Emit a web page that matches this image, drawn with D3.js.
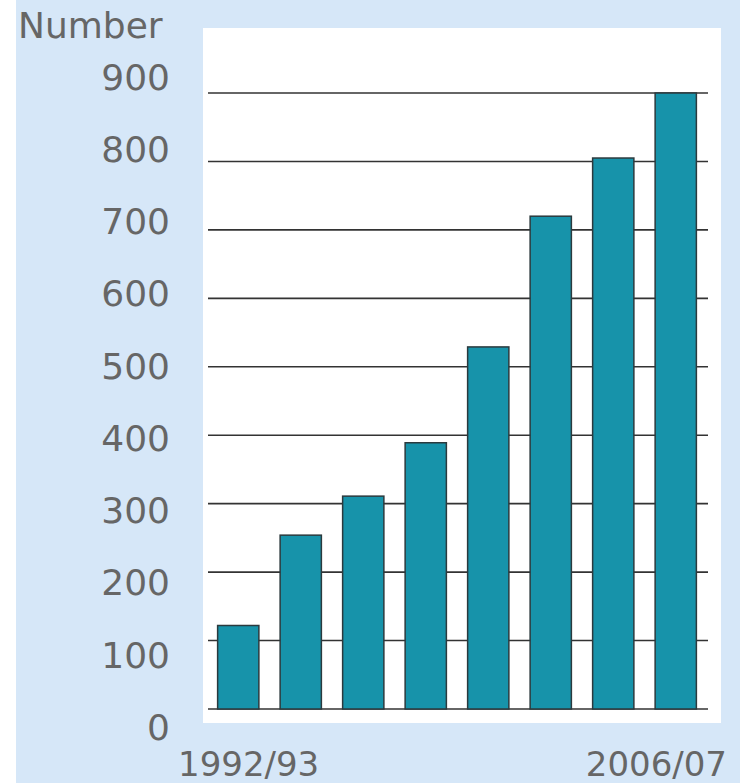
<!DOCTYPE html>
<html>
<head>
<meta charset="utf-8">
<script src="https://d3js.org/d3.v7.min.js"></script>
<style>
body { margin: 0; background: #fff; }
text { font-family: "DejaVu Sans", Verdana, sans-serif; fill: #666; }
</style>
</head>
<body>
<svg id="chart" width="740" height="783"></svg>
<script>
// data
var years = ["1992/93", "1994/95", "1996/97", "1998/99", "2000/01", "2002/03", "2004/05", "2006/07"]
var counts = [122, 254, 311, 389, 529, 720, 805, 900]
var yTicks = [0, 100, 200, 300, 400, 500, 600, 700, 800, 900]
var xLabels = ["1992/93", "2006/07"]

var svg = d3.select("#chart")

// blue background + white plot panel
svg.append("rect").attr("x", 16).attr("y", 0).attr("width", 724).attr("height", 783).style("fill", "#d6e7f8")
svg.append("rect").attr("x", 203).attr("y", 28).attr("width", 518).attr("height", 695).style("fill", "#fff")

var x = d3.scaleBand().domain(years).range([207, 707]).paddingInner(0.34).paddingOuter(0.17)
var y = d3.scaleLinear().domain([0, 900]).range([709, 93])
// tick labels sit on their own slightly wider spacing
var yLab = d3.scaleLinear().domain([0, 900]).range([740, 89.5])

// gridlines
svg.append("g").selectAll("line").data(yTicks).join("line")
    .attr("x1", 208).attr("x2", 708)
    .attr("y1", d => y(d)).attr("y2", d => y(d))
    .style("stroke", "#333").style("stroke-width", 1.6)

// bars
svg.append("g").selectAll("rect").data(counts).join("rect")
    .attr("x", (d, i) => x(years[i]))
    .attr("width", x.bandwidth())
    .attr("y", d => y(d))
    .attr("height", d => y(0) - y(d))
    .style("fill", "#1793aa")
    .style("stroke", "#2b3a3e").style("stroke-width", 1.5)

// y labels
svg.append("g").selectAll("text").data(yTicks).join("text")
    .attr("x", 170).attr("y", d => yLab(d))
    .attr("text-anchor", "end")
    .style("font-size", "36px")
    .text(d => d)

svg.append("text").attr("x", 18).attr("y", 38).style("font-size", "36px").text("Number")

// x labels, first and last only
svg.append("text").attr("x", 178).attr("y", 776).style("font-size", "34px").text(xLabels[0])
svg.append("text").attr("x", 727).attr("y", 776).attr("text-anchor", "end").style("font-size", "34px").text(xLabels[1])
</script>
</body>
</html>
